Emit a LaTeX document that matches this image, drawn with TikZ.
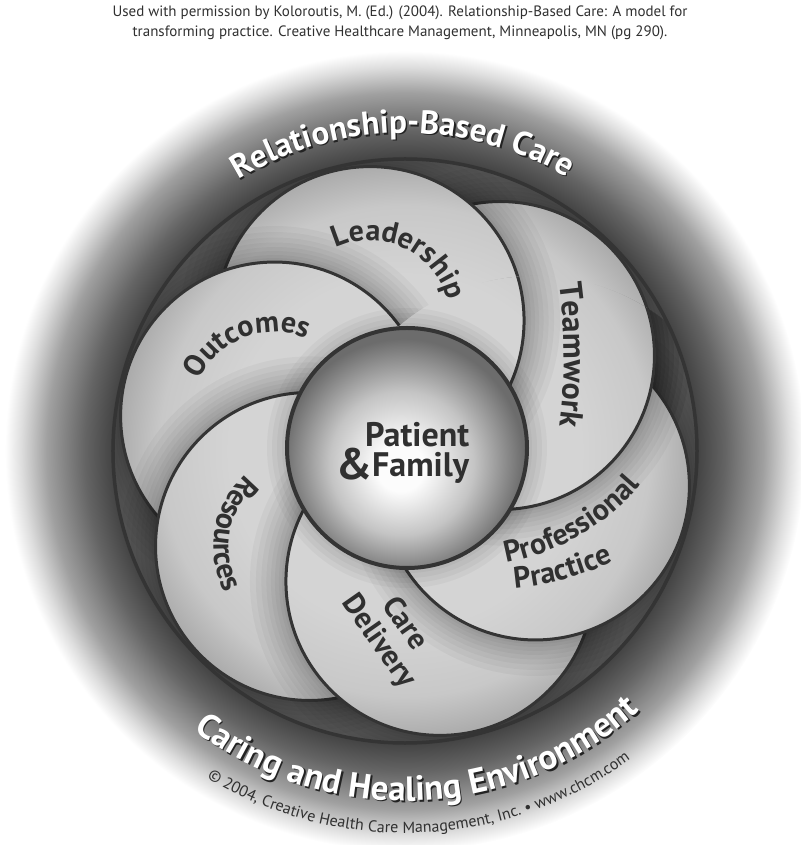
\documentclass[tikz,border=0pt]{standalone}
\usepackage{fontspec}
\setmainfont{PT Sans}
\usetikzlibrary{decorations.text}
\definecolor{inkgray}{RGB}{48,48,48}
\definecolor{edgegray}{RGB}{52,52,52}
\definecolor{titleshadow}{RGB}{35,35,35}
\definecolor{glowdark}{RGB}{66,66,66}
\definecolor{glowmid}{RGB}{100,100,100}
\definecolor{glowlight}{RGB}{160,160,160}
\definecolor{glowpale}{RGB}{222,222,222}
\definecolor{diskin}{RGB}{150,150,150}
\definecolor{diskout}{RGB}{88,88,88}
\definecolor{petalin}{RGB}{212,212,212}
\definecolor{petalmid}{RGB}{200,200,200}
\definecolor{petalout}{RGB}{168,168,168}
\definecolor{sphwhite}{RGB}{252,252,252}
\definecolor{sphmid}{RGB}{196,196,196}
\definecolor{sphedge}{RGB}{108,108,108}
\pgfdeclareradialshading{glow}{\pgfpointorigin}{color(0bp)=(glowdark); color(18.2bp)=(glowdark); color(20bp)=(glowmid); color(22.4bp)=(glowlight); color(24bp)=(glowpale); color(25bp)=(white); color(50bp)=(white)}
\pgfdeclareradialshading{diskfill}{\pgfpointorigin}{color(0bp)=(diskin); color(15bp)=(diskin); color(25bp)=(diskout); color(50bp)=(diskout)}
\pgfdeclareradialshading{petalfill}{\pgfpointorigin}{color(0bp)=(petalin); color(15bp)=(petalin); color(21bp)=(petalmid); color(25bp)=(petalout); color(50bp)=(petalout)}
\pgfdeclareradialshading{sphere}{\pgfpoint{-1.5bp}{-4.5bp}}{color(0bp)=(sphwhite); color(5bp)=(sphwhite); color(15bp)=(sphmid); color(25bp)=(sphedge); color(50bp)=(sphedge)}
\newcommand{\labfont}{\bfseries\fontsize{30}{31}\selectfont}
\newcommand{\teamfont}{\bfseries\fontsize{32}{32}\selectfont}
\newcommand{\ringfont}{\bfseries\fontsize{33}{33}\selectfont}
\newcommand{\lowringfont}{\bfseries\fontsize{35}{35}\selectfont}
\newcommand{\notefont}{\fontsize{15}{20}\selectfont}
\newcommand{\smallnotefont}{\fontsize{16}{16}\selectfont}
\tikzset{
  petaledge/.style={draw=edgegray, line width=3pt},
  petalshadow/.style={draw=black, opacity=0.035},
  pathtext/.style={decorate, decoration={text along path, text align=center, text color=inkgray, text={#1}}},
  whitetext/.style={decorate, decoration={text along path, text align=center, text color=white, text={#1}}},
  shadowtext/.style={decorate, decoration={text along path, text align=center, text color=titleshadow, text={#1}}}
}
% one petal: cast shadow, shaded body, rim
\newcommand{\drawpetal}[1]{%
  \foreach \w in {72,60,49,39,30,22,14,8}
    \draw[petalshadow, line width=\w] (#1) circle (154);
  \begin{scope}
    \clip (#1) circle (154);
    \shade[shading=petalfill] (0,0) circle (292);
  \end{scope}
  \draw[petaledge] (#1) circle (154);}

\begin{document}
\begin{tikzpicture}[x=1pt, y=1pt]
  \useasboundingbox (-405,-394) rectangle (395,451);
  % Glow and disk
  \shade[shading=glow] (0,0) circle (400);
  \shade[shading=diskfill] (0,0) circle (292);
  % Petal centres
  \coordinate (pteam) at (45:135);
  \coordinate (plead) at (105:135);
  \coordinate (pout) at (165:135);
  \coordinate (pres) at (225:135);
  \coordinate (pcare) at (285:135);
  \coordinate (pprof) at (345:135);
  % Petals, each one over the one before
  \begin{scope}
    \clip (0,0) circle (292);
    \drawpetal{pteam}
    \drawpetal{plead}
    \drawpetal{pout}
    \drawpetal{pres}
    \drawpetal{pcare}
    \drawpetal{pprof}
    % Teamwork back over Professional Practice
    \clip (pprof) circle (210);
    \drawpetal{pteam}
    \drawpetal{plead}
  \end{scope}
  \draw[edgegray, line width=3.5pt] (0,0) circle (292);
  % Hub
  \foreach \w in {40,30,20,10}
    \draw[petalshadow, line width=\w] (2,3) circle (120);
  \node[circle, minimum size=240pt, inner sep=0, shade, shading=sphere, draw=edgegray, line width=4pt] (hub) at (2,3) {};
  \node[font=\bfseries\fontsize{34}{34}\selectfont, text=inkgray, anchor=base west, inner sep=0] (patient) at (-40,4) {Patient};
  \node[font=\bfseries\fontsize{34}{34}\selectfont, text=inkgray, anchor=base west, inner sep=0] (family) at (-33,-26) {Family};
  \node[font=\bfseries\fontsize{44}{44}\selectfont, text=inkgray, anchor=base east, inner sep=0] (amp) at ([xshift=1pt, yshift=-3pt]family.base west) {\&};
  % Petal labels
  \path[pathtext={|\labfont|Leadership}, shift={(plead)}] (135:80) arc (135:-5:80);
  \path[pathtext={|\labfont|Outcomes}, shift={(pout)}] (181:84) arc (181:41:84);
  \path[pathtext={|\labfont|Resources}, shift={(pres)}] (110:96) arc (110:230:96);
  \path[pathtext={|\teamfont|Teamwork}] (151,190) .. controls (162,125) and (162,67) .. (151,2);
  \path[pathtext={|\labfont|Professional}, shift={(60,114.5)}] (-95:230) arc (-95:-25:230);
  \path[pathtext={|\labfont|Practice}, shift={(85,152)}] (-95:290) arc (-95:-55:290);
  \node[font=\labfont, text=inkgray, align=center, rotate=-55, inner sep=0] (lcare) at (-14,-182) {Care\\Delivery};
  % Ring titles
  \path[shadowtext={|\ringfont|Relationship-Based Care}, xshift=1.5pt, yshift=-1.5pt] (128:318) arc (128:53:318);
  \path[whitetext={|\ringfont|Relationship-Based Care}] (128:318) arc (128:53:318);
  \path[shadowtext={|\lowringfont|Caring and Healing Environment}, xshift=1.5pt, yshift=-1.5pt] (212:350) arc (212:333:350);
  \path[whitetext={|\lowringfont|Caring and Healing Environment}] (212:350) arc (212:333:350);
  \path[pathtext={|\smallnotefont|© 2004, Creative Health Care Management, Inc. • www.chcm.com}] (212:382) arc (212:333:382);
  % Credit line
  \node[font=\notefont, text=inkgray, align=center, inner sep=0] (credit) at (-5,428) {Used with permission by Koloroutis, M. (Ed.) (2004). Relationship-Based Care: A model for\\transforming practice. Creative Healthcare Management, Minneapolis, MN (pg 290).};
\end{tikzpicture}
\end{document}
